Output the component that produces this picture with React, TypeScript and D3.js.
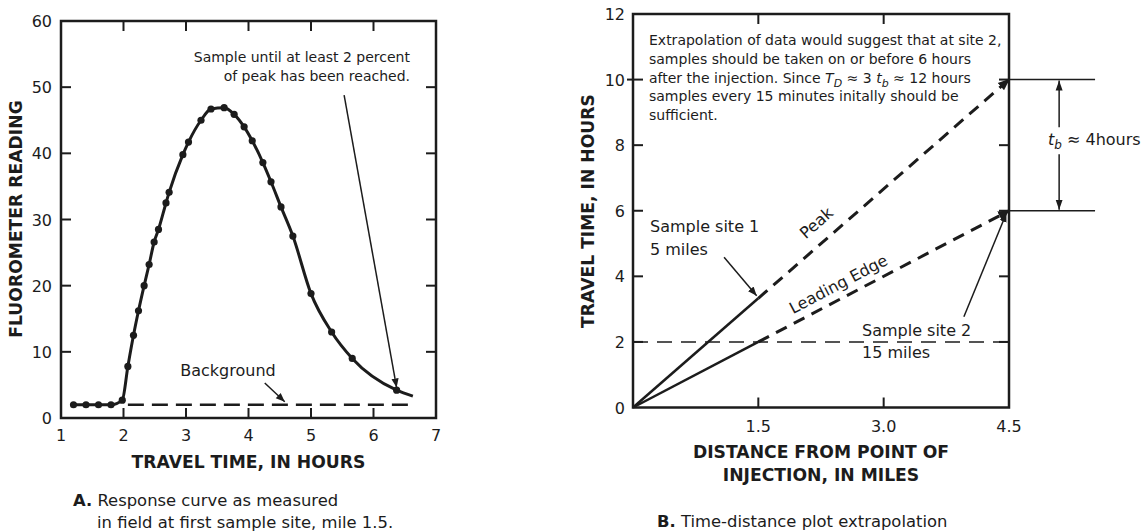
import React from "react";
import * as d3 from "d3";

// Panel A: fluorometer readings at the first sample site
const sampleTimes = [1.2, 1.4, 1.6, 1.8, 1.98, 2.07, 2.16, 2.24, 2.33, 2.41, 2.49, 2.56, 2.68, 2.73, 2.95, 3.04, 3.24, 3.4, 3.61, 3.77, 3.93, 4.06, 4.23, 4.36, 4.52, 4.71, 5.0, 5.33, 5.66, 6.37];
const sampleReadings = [2, 2, 2, 2, 2.7, 7.8, 12.5, 16.2, 20.0, 23.2, 26.6, 28.5, 32.5, 34.1, 39.8, 41.7, 45.0, 46.7, 46.9, 45.9, 44.0, 41.9, 38.6, 35.7, 31.9, 27.5, 18.8, 13.0, 9.0, 4.2];
// curve continues past the last sample without a marker
const tailTimes = [6.63];
const tailReadings = [3.3];
const backgroundReading = 2;
const timeTicksA = [1, 2, 3, 4, 5, 6, 7];
const readingTicksA = [0, 10, 20, 30, 40, 50, 60];

// Panel B: time-distance extrapolation
const distTicksB = [1.5, 3.0, 4.5];
const timeTicksB = [0, 2, 4, 6, 8, 10, 12];
const site1Distance = 1.5;
const site2Distance = 4.5;
const peakTimeSite1 = 3.33;
const peakTimeSite2 = 10;
const edgeTimeSite1 = 2;
const edgeTimeSite2 = 6;
const backgroundTimeB = 2;

const noteLinesB = [
  "Extrapolation of data would suggest that at site 2,",
  "samples should be taken on or before 6 hours",
  "__TD__",
  "samples every 15 minutes initally should be",
  "sufficient.",
];

const FONT = "'DejaVu Sans', Verdana, 'Noto Sans', sans-serif";
const INK = "#1c1c1c";

export default function App() {
  const xA = d3.scaleLinear().domain([1, 7]).range([61, 436]);
  const yA = d3.scaleLinear().domain([0, 60]).range([418, 21]);
  const xB = d3.scaleLinear().domain([0, 4.5]).range([633, 1009]);
  const yB = d3.scaleLinear().domain([0, 12]).range([407.5, 14]);

  const pts: [number, number][] = sampleTimes.map((t, i) => [t, sampleReadings[i]]);
  const curvePts: [number, number][] = pts.concat(tailTimes.map((t, i) => [t, tailReadings[i]] as [number, number]));
  const lineA = d3
    .line<[number, number]>()
    .x((d) => xA(d[0]))
    .y((d) => yA(d[1]))
    .curve(d3.curveMonotoneX);

  const tick = 10;
  const axisW = 2.5;

  const [xA0, xA1] = xA.range();
  const [yA0, yA1] = yA.range();
  const [xB0, xB1] = xB.range();
  const [yB0, yB1] = yB.range();

  const seg = (x1: number, y1: number, x2: number, y2: number, extra: any = {}) => (
    <line x1={x1} y1={y1} x2={x2} y2={y2} stroke={INK} {...extra} />
  );

  // geometry for rotated line labels in panel B
  const peakAngle = (Math.atan2(yB(0) - yB(peakTimeSite2), xB(site2Distance) - xB(0)) * 180) / Math.PI;
  const edgeAngle = (Math.atan2(yB(0) - yB(edgeTimeSite2), xB(site2Distance) - xB(0)) * 180) / Math.PI;

  const tbX = xB(5.1);
  const tbMid = yB(8.15);

  const TICK_FS = 16;
  const TITLE_FS = 17.2;

  return (
    <svg
      width={1147}
      height={531}
      style={{ position: "absolute", left: 0, top: 0, background: "#fff" }}
      fontFamily={FONT}
    >
      <defs>
        <marker id="ah" viewBox="0 0 10 10" refX="10" refY="5" markerWidth="9" markerHeight="9" markerUnits="userSpaceOnUse" orient="auto">
          <path d="M0,1 L10,5 L0,9 z" fill={INK} />
        </marker>
        <marker id="ahs" viewBox="0 0 10 10" refX="10" refY="5" markerWidth="10" markerHeight="10" markerUnits="userSpaceOnUse" orient="auto">
          <path d="M0,1.5 L10,5 L0,8.5 z" fill={INK} />
        </marker>
        <marker id="ahd" viewBox="0 0 10 10" refX="9" refY="5" markerWidth="4" markerHeight="4" orient="auto">
          <path d="M0,1 L10,5 L0,9 z" fill={INK} />
        </marker>
      </defs>

      {/* ---------- Panel A ---------- */}
      <g>
        {/* background level */}
        <line
          x1={xA(2.07)}
          x2={xA(6.63)}
          y1={yA(backgroundReading)}
          y2={yA(backgroundReading)}
          stroke={INK}
          strokeWidth={2.5}
          strokeDasharray="16 8"
        />
        {/* response curve */}
        <path d={lineA(curvePts) || ""} fill="none" stroke={INK} strokeWidth={3} />
        {pts.map((d, i) => (
          <circle key={i} cx={xA(d[0])} cy={yA(d[1])} r={3.6} fill={INK} />
        ))}

        {/* frame */}
        <rect x={xA0} y={yA1} width={xA1 - xA0} height={yA0 - yA1} fill="none" stroke={INK} strokeWidth={axisW} />
        {/* ticks */}
        {timeTicksA.slice(1, -1).map((t) => (
          <g key={"xt" + t}>
            {seg(xA(t), yA0, xA(t), yA0 - tick, { strokeWidth: 2 })}
            {seg(xA(t), yA1, xA(t), yA1 + tick, { strokeWidth: 2 })}
          </g>
        ))}
        {readingTicksA.slice(1, -1).map((v) => (
          <g key={"yt" + v}>
            {seg(xA0, yA(v), xA0 + tick, yA(v), { strokeWidth: 2 })}
            {seg(xA1, yA(v), xA1 - tick, yA(v), { strokeWidth: 2 })}
          </g>
        ))}
        {/* tick labels */}
        {timeTicksA.map((t) => (
          <text key={"xl" + t} x={xA(t)} y={yA0 + 23} textAnchor="middle" fontSize={TICK_FS} fill={INK}>
            {t}
          </text>
        ))}
        {readingTicksA.map((v) => (
          <text key={"yl" + v} x={xA0 - 9} y={yA(v) + 6} textAnchor="end" fontSize={TICK_FS} fill={INK}>
            {v}
          </text>
        ))}
        {/* axis titles */}
        <text x={(xA0 + xA1) / 2} y={yA0 + 50} textAnchor="middle" fontSize={TITLE_FS} fontWeight="bold" fill={INK}>
          TRAVEL TIME, IN HOURS
        </text>
        <text
          transform={`translate(${22},${219}) rotate(-90)`}
          textAnchor="middle"
          fontSize={TITLE_FS}
          fontWeight="bold"
          fill={INK}
        >
          FLUOROMETER READING
        </text>

        {/* annotations */}
        <text x={410} y={62} textAnchor="end" fontSize={14} fill={INK}>
          Sample until at least 2 percent
        </text>
        <text x={410} y={81} textAnchor="end" fontSize={14} fill={INK}>
          of peak has been reached.
        </text>
        <line x1={xA(5.53)} y1={yA(48.8)} x2={xA(6.37)} y2={yA(4.6)} stroke={INK} strokeWidth={1.5} markerEnd="url(#ah)" />

        <text x={228} y={376} textAnchor="middle" fontSize={16} fill={INK}>
          Background
        </text>
        <line x1={xA(4.26)} y1={yA(5.3)} x2={xA(4.58)} y2={yA(2.45)} stroke={INK} strokeWidth={1.5} markerEnd="url(#ah)" />

        {/* caption */}
        <text x={73} y={506} fontSize={16.4} fill={INK}>
          <tspan fontWeight="bold">A.</tspan> Response curve as measured
        </text>
        <text x={97} y={528} fontSize={16.4} fill={INK}>
          in field at first sample site, mile 1.5.
        </text>
      </g>

      {/* ---------- Panel B ---------- */}
      <g>
        {/* background level */}
        <line
          x1={xB0}
          x2={xB1}
          y1={yB(backgroundTimeB)}
          y2={yB(backgroundTimeB)}
          stroke={INK}
          strokeWidth={1.5}
          strokeDasharray="15 9"
        />
        {/* measured segments to site 1 */}
        <line x1={xB(0)} y1={yB(0)} x2={xB(site1Distance)} y2={yB(peakTimeSite1)} stroke={INK} strokeWidth={2.5} />
        <line x1={xB(0)} y1={yB(0)} x2={xB(site1Distance)} y2={yB(edgeTimeSite1)} stroke={INK} strokeWidth={2.5} />
        {/* extrapolations to site 2 */}
        <line
          x1={xB(site1Distance)}
          y1={yB(peakTimeSite1)}
          x2={xB(site2Distance)}
          y2={yB(peakTimeSite2)}
          stroke={INK}
          strokeWidth={3}
          strokeDasharray="12 8"
          markerEnd="url(#ahd)"
        />
        <line
          x1={xB(site1Distance)}
          y1={yB(edgeTimeSite1)}
          x2={xB(site2Distance)}
          y2={yB(edgeTimeSite2)}
          stroke={INK}
          strokeWidth={3}
          strokeDasharray="12 8"
          markerEnd="url(#ahd)"
        />

        {/* frame */}
        <rect x={xB0} y={yB1} width={xB1 - xB0} height={yB0 - yB1} fill="none" stroke={INK} strokeWidth={axisW} />
        {distTicksB.slice(0, -1).map((t) => (
          <g key={"bxt" + t}>
            {seg(xB(t), yB0, xB(t), yB0 - tick, { strokeWidth: 2 })}
            {seg(xB(t), yB1, xB(t), yB1 + tick, { strokeWidth: 2 })}
          </g>
        ))}
        {timeTicksB.slice(1, -1).map((v) => (
          <g key={"byt" + v}>
            {seg(xB0 - (v === 10 ? 6 : 0), yB(v), xB0 + tick, yB(v), { strokeWidth: 2 })}
            {seg(xB1, yB(v), xB1 - tick, yB(v), { strokeWidth: 2 })}
          </g>
        ))}
        {distTicksB.map((t) => (
          <text key={"bxl" + t} x={xB(t)} y={yB0 + 24} textAnchor="middle" fontSize={TICK_FS} fill={INK}>
            {t.toFixed(1)}
          </text>
        ))}
        {timeTicksB.map((v) => (
          <text key={"byl" + v} x={xB0 - 8} y={yB(v) + 6} textAnchor="end" fontSize={TICK_FS} fill={INK}>
            {v}
          </text>
        ))}
        <text x={(xB0 + xB1) / 2} y={458} textAnchor="middle" fontSize={TITLE_FS} fontWeight="bold" fill={INK}>
          DISTANCE FROM POINT OF
        </text>
        <text x={(xB0 + xB1) / 2} y={481} textAnchor="middle" fontSize={TITLE_FS} fontWeight="bold" fill={INK}>
          INJECTION, IN MILES
        </text>
        <text
          transform={`translate(${594},${211}) rotate(-90)`}
          textAnchor="middle"
          fontSize={TITLE_FS}
          fontWeight="bold"
          fill={INK}
        >
          TRAVEL TIME, IN HOURS
        </text>

        {/* note */}
        {noteLinesB.map((ln, i) => (
          <text key={"n" + i} x={649} y={45 + i * 18.8} fontSize={14} fill={INK}>
            {ln === "__TD__" ? (
              <>
                after the injection. Since <tspan fontStyle="italic">T</tspan>
                <tspan fontStyle="italic" fontSize={11} dy={4}>D</tspan>
                <tspan dy={-4}> ≈ 3 </tspan>
                <tspan fontStyle="italic">t</tspan>
                <tspan fontStyle="italic" fontSize={11} dy={4}>b</tspan>
                <tspan dy={-4}> ≈ 12 hours</tspan>
              </>
            ) : (
              ln
            )}
          </text>
        ))}

        {/* site labels */}
        <text x={650} y={232} fontSize={16} fill={INK}>Sample site 1</text>
        <text x={650} y={255} fontSize={16} fill={INK}>5 miles</text>
        <line x1={xB(1.09)} y1={yB(4.58)} x2={xB(1.48)} y2={yB(3.41)} stroke={INK} strokeWidth={1.5} markerEnd="url(#ah)" />

        <text x={862} y={336} fontSize={16} fill={INK}>Sample site 2</text>
        <text x={862} y={358} fontSize={16} fill={INK}>15 miles</text>
        <line x1={xB(3.96)} y1={yB(2.77)} x2={xB(4.47)} y2={yB(5.93)} stroke={INK} strokeWidth={1.5} markerEnd="url(#ah)" />

        <text transform={`translate(${820},${227}) rotate(${-peakAngle})`} textAnchor="middle" fontSize={16} fill={INK}>
          Peak
        </text>
        <text transform={`translate(${841},${289}) rotate(${-edgeAngle})`} textAnchor="middle" fontSize={16} fill={INK}>
          Leading Edge
        </text>

        {/* travel-time bracket */}
        <line x1={xB1} x2={xB(5.53)} y1={yB(peakTimeSite2)} y2={yB(peakTimeSite2)} stroke={INK} strokeWidth={1.5} />
        <line x1={xB1} x2={xB(5.53)} y1={yB(edgeTimeSite2)} y2={yB(edgeTimeSite2)} stroke={INK} strokeWidth={1.5} />
        <line x1={tbX} x2={tbX} y1={tbMid - 13} y2={yB(peakTimeSite2) + 1} stroke={INK} strokeWidth={1.5} markerEnd="url(#ahs)" />
        <line x1={tbX} x2={tbX} y1={tbMid + 14} y2={yB(edgeTimeSite2) - 1} stroke={INK} strokeWidth={1.5} markerEnd="url(#ahs)" />
        <text x={1048} y={tbMid + 5} fontSize={16} fill={INK}>
          <tspan fontStyle="italic">t</tspan>
          <tspan fontStyle="italic" fontSize={12} dy={4}>b</tspan>
          <tspan dy={-4}> ≈ 4hours</tspan>
        </text>

        <text x={657} y={527} fontSize={16.4} fill={INK}>
          <tspan fontWeight="bold">B.</tspan> Time-distance plot extrapolation
        </text>
      </g>
    </svg>
  );
}
